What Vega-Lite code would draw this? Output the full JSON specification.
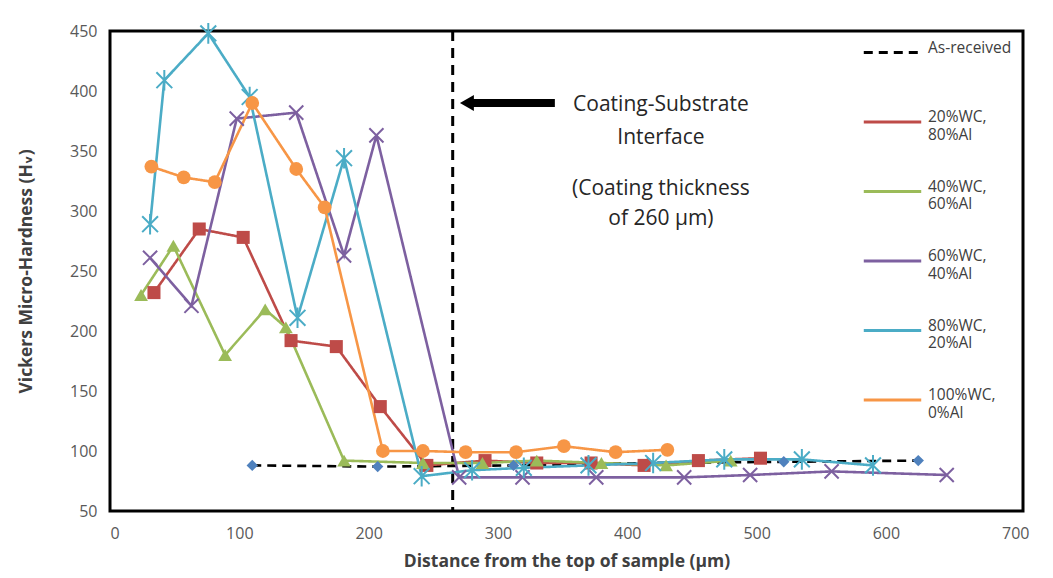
{
  "$schema": "https://vega.github.io/schema/vega-lite/v6.json",
  "width": 913,
  "height": 480,
  "autosize": {"type": "none"},
  "padding": {"left": 110, "top": 31, "right": 30, "bottom": 67},
  "background": "white",
  "config": {
    "view": {"stroke": "black", "strokeWidth": 3},
    "font": "Open Sans",
    "scale": {"zero": false},
    "point": {"opacity": 1},
    "axis": {"grid": false, "ticks": false, "domain": false, "labelFont": "Open Sans", "labelFontSize": 16, "labelColor": "#595959", "titleFont": "Open Sans, DejaVu Sans", "titleFontSize": 17.5, "titleFontWeight": "bold", "titleColor": "#404040"}
  },
  "datasets": {
    "series": [
      {"s": "As-received", "x": 110, "y": 88}, {"s": "As-received", "x": 207, "y": 87}, {"s": "As-received", "x": 312, "y": 88}, {"s": "As-received", "x": 416, "y": 90}, {"s": "As-received", "x": 521, "y": 91}, {"s": "As-received", "x": 625, "y": 92},
      {"s": "20%WC, 80%Al", "x": 34, "y": 232}, {"s": "20%WC, 80%Al", "x": 69, "y": 285}, {"s": "20%WC, 80%Al", "x": 103, "y": 278}, {"s": "20%WC, 80%Al", "x": 140, "y": 192}, {"s": "20%WC, 80%Al", "x": 175, "y": 187}, {"s": "20%WC, 80%Al", "x": 209, "y": 137}, {"s": "20%WC, 80%Al", "x": 245, "y": 88}, {"s": "20%WC, 80%Al", "x": 290, "y": 92}, {"s": "20%WC, 80%Al", "x": 330, "y": 90}, {"s": "20%WC, 80%Al", "x": 372, "y": 90}, {"s": "20%WC, 80%Al", "x": 413, "y": 88}, {"s": "20%WC, 80%Al", "x": 455, "y": 92}, {"s": "20%WC, 80%Al", "x": 503, "y": 94},
      {"s": "40%WC, 60%Al", "x": 24, "y": 230}, {"s": "40%WC, 60%Al", "x": 49, "y": 271}, {"s": "40%WC, 60%Al", "x": 89, "y": 180}, {"s": "40%WC, 60%Al", "x": 120, "y": 218}, {"s": "40%WC, 60%Al", "x": 136, "y": 203}, {"s": "40%WC, 60%Al", "x": 181, "y": 92}, {"s": "40%WC, 60%Al", "x": 242, "y": 90}, {"s": "40%WC, 60%Al", "x": 288, "y": 90}, {"s": "40%WC, 60%Al", "x": 330, "y": 92}, {"s": "40%WC, 60%Al", "x": 380, "y": 90}, {"s": "40%WC, 60%Al", "x": 430, "y": 88}, {"s": "40%WC, 60%Al", "x": 480, "y": 92},
      {"s": "60%WC, 40%Al", "x": 31, "y": 261}, {"s": "60%WC, 40%Al", "x": 63, "y": 221}, {"s": "60%WC, 40%Al", "x": 98, "y": 377}, {"s": "60%WC, 40%Al", "x": 144, "y": 382}, {"s": "60%WC, 40%Al", "x": 181, "y": 263}, {"s": "60%WC, 40%Al", "x": 206, "y": 363}, {"s": "60%WC, 40%Al", "x": 270, "y": 78}, {"s": "60%WC, 40%Al", "x": 319, "y": 78}, {"s": "60%WC, 40%Al", "x": 376, "y": 78}, {"s": "60%WC, 40%Al", "x": 444, "y": 78}, {"s": "60%WC, 40%Al", "x": 495, "y": 80}, {"s": "60%WC, 40%Al", "x": 558, "y": 83}, {"s": "60%WC, 40%Al", "x": 647, "y": 80},
      {"s": "80%WC, 20%Al", "x": 31, "y": 289}, {"s": "80%WC, 20%Al", "x": 42, "y": 409}, {"s": "80%WC, 20%Al", "x": 76, "y": 448}, {"s": "80%WC, 20%Al", "x": 108, "y": 395}, {"s": "80%WC, 20%Al", "x": 145, "y": 211}, {"s": "80%WC, 20%Al", "x": 181, "y": 344}, {"s": "80%WC, 20%Al", "x": 241, "y": 79}, {"s": "80%WC, 20%Al", "x": 280, "y": 84}, {"s": "80%WC, 20%Al", "x": 320, "y": 86}, {"s": "80%WC, 20%Al", "x": 370, "y": 88}, {"s": "80%WC, 20%Al", "x": 420, "y": 90}, {"s": "80%WC, 20%Al", "x": 475, "y": 93}, {"s": "80%WC, 20%Al", "x": 535, "y": 93}, {"s": "80%WC, 20%Al", "x": 590, "y": 88},
      {"s": "100%WC, 0%Al", "x": 32, "y": 337}, {"s": "100%WC, 0%Al", "x": 57, "y": 328}, {"s": "100%WC, 0%Al", "x": 81, "y": 324}, {"s": "100%WC, 0%Al", "x": 110, "y": 390}, {"s": "100%WC, 0%Al", "x": 144, "y": 335}, {"s": "100%WC, 0%Al", "x": 166, "y": 303}, {"s": "100%WC, 0%Al", "x": 211, "y": 100}, {"s": "100%WC, 0%Al", "x": 242, "y": 100}, {"s": "100%WC, 0%Al", "x": 275, "y": 99}, {"s": "100%WC, 0%Al", "x": 314, "y": 99}, {"s": "100%WC, 0%Al", "x": 351, "y": 104}, {"s": "100%WC, 0%Al", "x": 391, "y": 99}, {"s": "100%WC, 0%Al", "x": 431, "y": 101}
    ],
    "notes": [
      {"x": 426, "y": 388.5, "t": "Coating-Substrate"},
      {"x": 426, "y": 360.5, "t": "Interface"},
      {"x": 426, "y": 318, "t": "(Coating thickness"},
      {"x": 426, "y": 293, "t": "of 260 µm)"}
    ]
  },
  "layer": [
    {
      "data": {"values": [{"x": 265}]},
      "mark": {"type": "rule", "color": "black", "strokeWidth": 3, "strokeDash": [10, 7]},
      "encoding": {"x": {"field": "x", "type": "quantitative"}}
    },
    {
      "data": {"values": [{"x": 278, "x2": 344, "y": 390}]},
      "mark": {"type": "rule", "color": "black", "strokeWidth": 8},
      "encoding": {"x": {"field": "x", "type": "quantitative"}, "x2": {"field": "x2"}, "y": {"field": "y", "type": "quantitative"}}
    },
    {
      "data": {"values": [{"x": 276, "y": 390}]},
      "mark": {"type": "point", "shape": "triangle-left", "filled": true, "color": "black", "size": 260},
      "encoding": {"x": {"field": "x", "type": "quantitative"}, "y": {"field": "y", "type": "quantitative"}}
    },
    {
      "data": {"name": "notes"},
      "mark": {"type": "text", "font": "Open Sans", "fontSize": 21, "color": "#262626", "align": "center", "baseline": "middle"},
      "encoding": {"x": {"field": "x", "type": "quantitative"}, "y": {"field": "y", "type": "quantitative"}, "text": {"field": "t"}}
    },
    {
      "data": {"name": "series"},
      "mark": {"type": "line", "strokeWidth": 2.6},
      "encoding": {
        "x": {"field": "x", "type": "quantitative", "scale": {"domain": [0, 706], "nice": false}, "axis": {"values": [0, 100, 200, 300, 400, 500, 600, 700], "labelPadding": 14, "titlePadding": 11, "title": "Distance from the top of sample (µm)"}},
        "y": {"field": "y", "type": "quantitative", "scale": {"domain": [50, 450], "nice": false}, "axis": {"values": [50, 100, 150, 200, 250, 300, 350, 400, 450], "labelPadding": 13, "titlePadding": 34, "title": "Vickers Micro-Hardness (Hᵥ)"}},
        "stroke": {"field": "s", "type": "nominal", "scale": {"domain": ["As-received", "20%WC, 80%Al", "40%WC, 60%Al", "60%WC, 40%Al", "80%WC, 20%Al", "100%WC, 0%Al"], "range": ["#000000", "#BE4B48", "#9BBB59", "#7D60A0", "#4BACC6", "#F79646"]},
          "legend": {"title": null, "orient": "none", "legendX": 752, "legendY": -9, "symbolType": "stroke", "symbolSize": 3300, "symbolStrokeWidth": 3, "rowPadding": 17.5, "labelFont": "Open Sans", "labelFontSize": 15.5, "labelLineHeight": 16, "labelColor": "#404040", "labelBaseline": "alphabetic", "labelOffset": 5, "padding": 0, "labelExpr": "indexof(datum.label, ',') > 0 ? [slice(datum.label, 0, indexof(datum.label, ',') + 1), trim(slice(datum.label, indexof(datum.label, ',') + 1))] : [datum.label, ' ']"}},
        "strokeDash": {"field": "s", "type": "nominal", "scale": {"domain": ["As-received", "20%WC, 80%Al", "40%WC, 60%Al", "60%WC, 40%Al", "80%WC, 20%Al", "100%WC, 0%Al"], "range": [[9, 6], [1, 0], [1, 0], [1, 0], [1, 0], [1, 0]]}}
      }
    },
    {
      "data": {"name": "series"},
      "transform": [{"filter": "datum.s === 'As-received'"}],
      "mark": {"type": "point", "shape": "diamond", "filled": true, "color": "#4F81BD", "size": 130},
      "encoding": {"x": {"field": "x", "type": "quantitative"}, "y": {"field": "y", "type": "quantitative"}}
    },
    {
      "data": {"name": "series"},
      "transform": [{"filter": "datum.s === '20%WC, 80%Al'"}],
      "mark": {"type": "point", "shape": "square", "filled": true, "color": "#BE4B48", "size": 170},
      "encoding": {"x": {"field": "x", "type": "quantitative"}, "y": {"field": "y", "type": "quantitative"}}
    },
    {
      "data": {"name": "series"},
      "transform": [{"filter": "datum.s === '40%WC, 60%Al'"}],
      "mark": {"type": "point", "shape": "triangle-up", "filled": true, "color": "#9BBB59", "size": 190},
      "encoding": {"x": {"field": "x", "type": "quantitative"}, "y": {"field": "y", "type": "quantitative"}}
    },
    {
      "data": {"name": "series"},
      "transform": [{"filter": "datum.s === '60%WC, 40%Al'"}],
      "mark": {"type": "point", "shape": "M-1,-1L1,1M-1,1L1,-1", "filled": false, "color": "#7D60A0", "strokeWidth": 2, "size": 200},
      "encoding": {"x": {"field": "x", "type": "quantitative"}, "y": {"field": "y", "type": "quantitative"}}
    },
    {
      "data": {"name": "series"},
      "transform": [{"filter": "datum.s === '80%WC, 20%Al'"}],
      "mark": {"type": "point", "shape": "M-1,-1L1,1M-1,1L1,-1M0,-1.3L0,1.3", "filled": false, "color": "#4BACC6", "strokeWidth": 2, "size": 250},
      "encoding": {"x": {"field": "x", "type": "quantitative"}, "y": {"field": "y", "type": "quantitative"}}
    },
    {
      "data": {"name": "series"},
      "transform": [{"filter": "datum.s === '100%WC, 0%Al'"}],
      "mark": {"type": "point", "shape": "circle", "filled": true, "color": "#F79646", "size": 190},
      "encoding": {"x": {"field": "x", "type": "quantitative"}, "y": {"field": "y", "type": "quantitative"}}
    }
  ]
}
